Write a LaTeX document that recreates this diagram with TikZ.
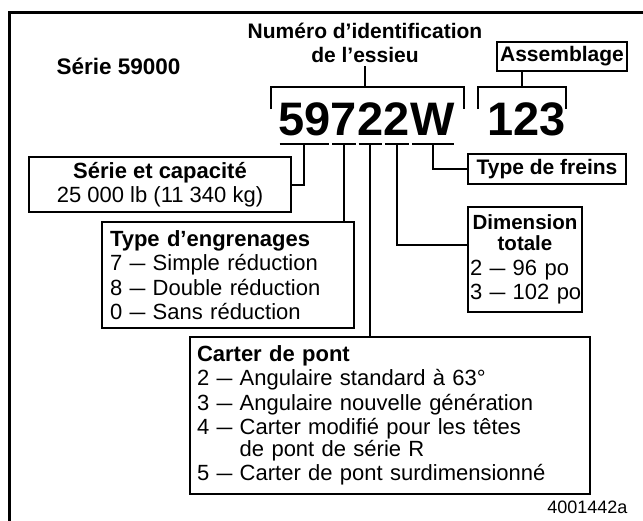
\documentclass[tikz,border=0pt]{standalone}
\usepackage{fontspec}
\setmainfont{Liberation Sans}
\usetikzlibrary{positioning}
\newcommand{\dsh}{\scalebox{0.72}[1]{—}}

\begin{document}
\begin{tikzpicture}[x=1pt,y=-1pt,
		box/.style={draw, line width=2.2pt, inner sep=0pt, outer sep=0pt},
		wire/.style={line width=2pt},
		uline/.style={line width=2.6pt, shorten <=1.5pt, shorten >=1.5pt},
		bignum/.style={inner sep=0pt, font=\fontsize{47}{47}\selectfont\bfseries},
		head/.style={font=\fontsize{21}{24}\selectfont\bfseries},
		txt/.style={font=\fontsize{22}{24.5}\selectfont}]
		
		\useasboundingbox (0,0) rectangle (643,520);
		\draw[line width=3pt] (9,522) -- (9,12) -- (645,12);
		
		\node[head, align=center] (ident) at (365,43) {Numéro d’identification\\de l’essieu};
		\node[font=\fontsize{22.5}{26}\selectfont\bfseries, anchor=west] (serie) at (53,66) {Série 59000};
		\node[box, head, minimum width=130pt, minimum height=29pt] (assem) at (562,56.5) {Assemblage};
		
		\node[bignum, anchor=base west] (d59) at (278,135) {59};
		\node[bignum, base right=0pt of d59] (d7) {7};
		\node[bignum, base right=0pt of d7] (d2a) {2};
		\node[bignum, base right=0pt of d2a] (d2b) {2};
		\node[bignum, base right=0pt of d2b] (dW) {W};
		\node[bignum, anchor=base west] (num) at (487,135) {123};
		
		\foreach \g/\u in {d59/u1,d7/u2,d2a/u3,d2b/u4,dW/u5} {
			\draw[uline] ([yshift=-9pt]\g.base west) -- ([yshift=-9pt]\g.base east);
			\coordinate (\u) at ([yshift=-9pt]\g.base);
		}
		
		% brackets
		\coordinate (brA) at (365,87);
		\coordinate (brB) at (522,87);
		\draw[wire] (271,109) -- (271,87) -- (464,87) -- (464,109);
		\draw[wire] (478,109) -- (478,87) -- (566,87) -- (566,109);
		\draw[wire] (ident.south) -- (brA);
		\draw[wire] (brB |- assem.south) -- (brB);
		
		\node[box, txt, minimum width=262pt, minimum height=55pt, align=center] (cap) at (160,184.5) {\textbf{Série et capacité}\\25 000 lb (11 340 kg)};
		\node[box, head, minimum width=158pt, minimum height=30pt] (frein) at (547,169) {Type de freins};
		\node[box, txt, minimum width=252pt, minimum height=106pt, text width=236pt, align=left] (engr) at (228,275) {\textbf{Type d’engrenages}\\7 \dsh{} Simple réduction\\8 \dsh{} Double réduction\\0 \dsh{} Sans réduction};
		\node[box, txt, minimum width=114pt, minimum height=105pt, text width=110pt, align=left] (dim) at (525,259.5) {{\centering\fontsize{20.5}{24}\selectfont\bfseries Dimension\\[-3pt]totale\par}\mbox{2 \dsh{} 96 po}\\\mbox{3 \dsh{} 102 po}};
		\node[box, txt, minimum width=400pt, minimum height=157pt, text width=386pt, align=left] (carter) at (390,415.5) {\textbf{Carter de pont}\\2 \dsh{} Angulaire standard à 63°\\3 \dsh{} Angulaire nouvelle génération\\4 \dsh{} Carter modifié pour les têtes\\[-3pt]\phantom{4 \dsh{} }de pont de série R\\5 \dsh{} Carter de pont surdimensionné};
		\node[font=\fontsize{18}{18}\selectfont, anchor=east] (ref) at (631,507) {4001442a};
		
		\draw[wire] (u1) |- (cap.east);
		\draw[wire] (u2) -- (u2 |- engr.north);
		\draw[wire] (u3) -- (u3 |- carter.north);
		\draw[wire] (u4) |- ([yshift=15pt]dim.west);
		\draw[wire] (u5) |- (frein.west);
		
	\end{tikzpicture}
\end{document}
